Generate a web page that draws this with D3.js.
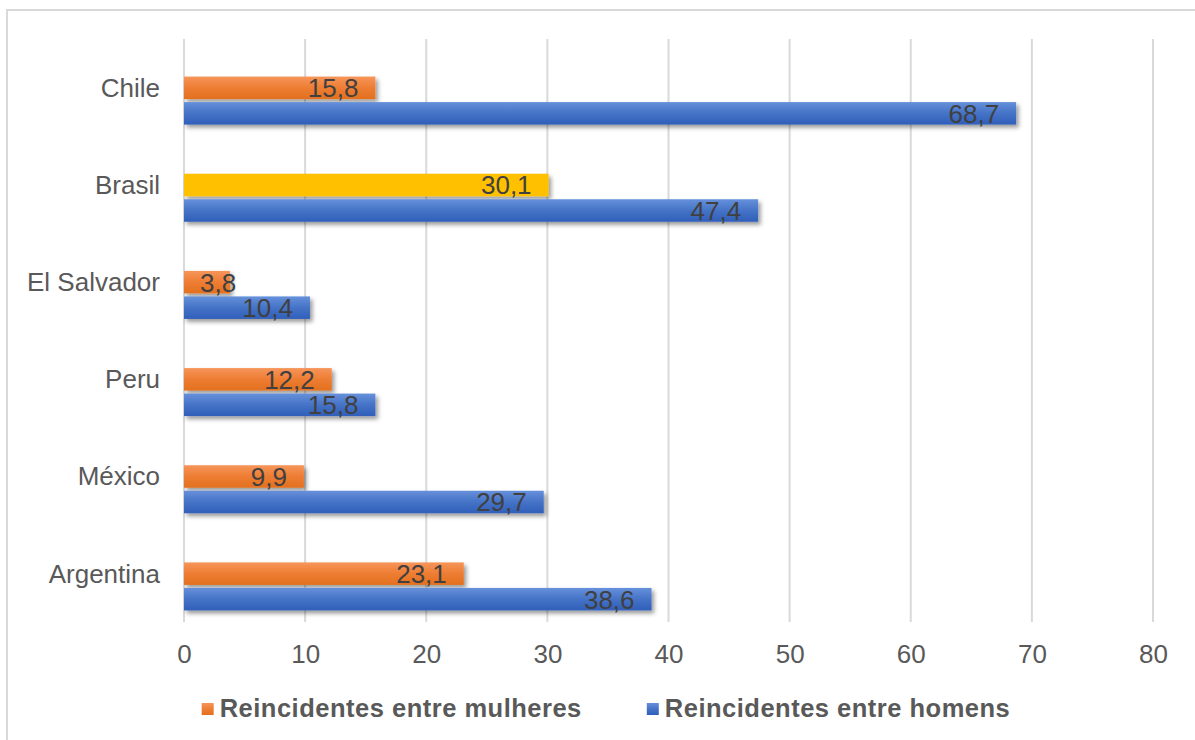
<!DOCTYPE html>
<html>
<head>
<meta charset="utf-8">
<script src="https://cdn.jsdelivr.net/npm/d3@7"></script>
<style>
  html, body { margin: 0; padding: 0; background: #ffffff; }
  svg { display: block; font-family: "Liberation Sans", Arial, sans-serif; }
</style>
</head>
<body>
<svg id="chart" width="1195" height="740"></svg>
<script>
// Countries, top to bottom
const countries = ["Chile", "Brasil", "El Salvador", "Peru", "México", "Argentina"];
// Reoffenders among women (%)
const mulheres = [15.8, 30.1, 3.8, 12.2, 9.9, 23.1];
// Reoffenders among men (%)
const homens = [68.7, 47.4, 10.4, 15.8, 29.7, 38.6];
// Value axis ticks
const xTicks = [0, 10, 20, 30, 40, 50, 60, 70, 80];
// Series names for the legend
const seriesNames = ["Reincidentes entre mulheres", "Reincidentes entre homens"];
// Country whose women's bar is highlighted
const highlighted = "Brasil";

const fmt = v => String(v).replace(".", ",");

const svg = d3.select("#chart");
const W = 1195, H = 740;

// Chart frame
svg.append("rect")
  .attr("x", 7).attr("y", 10)
  .attr("width", W + 20).attr("height", H + 20)
  .attr("fill", "#ffffff")
  .attr("stroke", "#d9d9d9").attr("stroke-width", 2);

const defs = svg.append("defs");

function grad(id, stops) {
  const g = defs.append("linearGradient").attr("id", id)
    .attr("x1", 0).attr("y1", 0).attr("x2", 0).attr("y2", 1);
  stops.forEach(([o, c]) => g.append("stop").attr("offset", o).attr("stop-color", c));
}
grad("gOrange", [["0%", "#f6955a"], ["50%", "#ee7d33"], ["100%", "#e2701f"]]);
grad("gBlue", [["0%", "#6690db"], ["50%", "#4573c6"], ["100%", "#2f5fba"]]);

const shadow = defs.append("filter").attr("id", "shadow")
  .attr("x", "-10%").attr("y", "-40%").attr("width", "130%").attr("height", "200%");
shadow.append("feDropShadow")
  .attr("dx", 2.5).attr("dy", 3).attr("stdDeviation", 2.2)
  .attr("flood-color", "#000").attr("flood-opacity", 0.4);

const x = d3.scaleLinear().domain([0, 80]).range([184, 1153]);
const y = d3.scaleBand().domain(countries).range([39, 622]).padding(0);

// Vertical gridlines
svg.append("g").selectAll("line").data(xTicks).join("line")
  .attr("x1", d => x(d)).attr("x2", d => x(d))
  .attr("y1", 39).attr("y2", 622)
  .attr("stroke", "#d9d9d9").attr("stroke-width", 2);

// Value axis labels
const xAxis = d3.axisBottom(x).tickValues(xTicks).tickSize(0).tickPadding(0).tickFormat(d => d);
const gx = svg.append("g").attr("transform", "translate(0,644)").call(xAxis);
gx.select(".domain").remove();
gx.selectAll("text")
  .attr("dy", 0).attr("y", 19)
  .attr("font-size", 26).attr("fill", "#595959")
  .attr("font-family", "Liberation Sans, Arial, sans-serif");

// Category labels
const yAxis = d3.axisLeft(y).tickSize(0).tickPadding(0);
const gy = svg.append("g").attr("transform", "translate(160,0)").call(yAxis);
gy.select(".domain").remove();
gy.selectAll("text")
  .attr("dy", "0.35em")
  .attr("font-size", 26).attr("fill", "#595959")
  .attr("font-family", "Liberation Sans, Arial, sans-serif");

const barH = 22.5;
const rows = countries.map((c, i) => ({ c, w: mulheres[i], m: homens[i] }));

const bars = [];
rows.forEach(r => {
  const cy = y(r.c) + y.bandwidth() / 2;
  bars.push({ v: r.w, top: cy - 11, fill: r.c === highlighted ? "#ffc000" : "url(#gOrange)" });
  bars.push({ v: r.m, top: cy + 14.5, fill: "url(#gBlue)" });
});

svg.append("g").selectAll("rect").data(bars).join("rect")
  .attr("x", x(0))
  .attr("y", d => d.top)
  .attr("width", d => x(d.v) - x(0))
  .attr("height", barH)
  .attr("fill", d => d.fill)
  .attr("filter", "url(#shadow)");

// Value labels, placed inside the bar end
const labels = svg.append("g").selectAll("text").data(bars).join("text")
  .attr("y", d => d.top + barH / 2)
  .attr("dy", "0.36em")
  .attr("font-size", 26).attr("fill", "#404040")
  .attr("text-anchor", "start")
  .text(d => fmt(d.v));
labels.each(function (d) {
  const w = this.getComputedTextLength();
  let left = x(d.v) - 17 - w;
  if (left < x(0) + 16) left = x(0) + 16;
  d3.select(this).attr("x", left);
});

// Legend
const legend = svg.append("g");
const items = [
  { name: seriesNames[0], fill: "url(#gOrange)" },
  { name: seriesNames[1], fill: "url(#gBlue)" }
];
const marker = 12, gapM = 6, gapItems = 65;
const itemG = legend.selectAll("g").data(items).join("g");
itemG.append("rect")
  .attr("width", marker).attr("height", marker)
  .attr("y", 703)
  .attr("fill", d => d.fill);
itemG.append("text")
  .attr("y", 717)
  .attr("font-size", 25.5).attr("font-weight", "bold")
  .attr("letter-spacing", 0.5)
  .attr("fill", "#595959")
  .text(d => d.name);
let widths = [];
itemG.select("text").each(function () { widths.push(this.getComputedTextLength()); });
const total = widths.reduce((a, b) => a + b, 0) + items.length * (marker + gapM) + gapItems;
let cursor = 606 - total / 2;
itemG.each(function (d, i) {
  const g = d3.select(this);
  g.select("rect").attr("x", cursor);
  g.select("text").attr("x", cursor + marker + gapM);
  cursor += marker + gapM + widths[i] + gapItems;
});
</script>
</body>
</html>
